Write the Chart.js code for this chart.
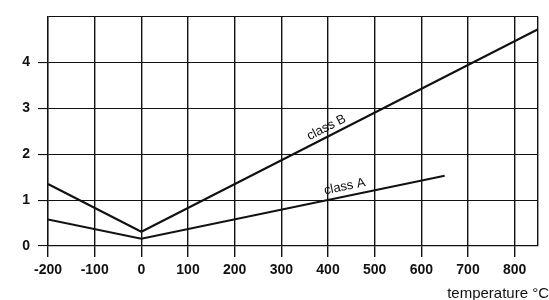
<!DOCTYPE html>
<html><head><meta charset="utf-8">
<script src="https://cdn.jsdelivr.net/npm/chart.js@4/dist/chart.umd.min.js"></script>
<style>html,body{margin:0;padding:0;background:#fff}#wrap{width:549px;height:300px;position:relative}</style>
</head><body><div id="wrap"><canvas id="c" width="549" height="300"></canvas></div>
<script>
const xTicks = [-200, -100, 0, 100, 200, 300, 400, 500, 600, 700, 800, 850];
const yTicks = [0, 1, 2, 3, 4, 5];
const classBTemps = [-200, 0, 850];
const classBValues = [1.35, 0.31, 4.72];
const classATemps = [-200, 0, 650];
const classAValues = [0.58, 0.16, 1.53];
const xAxisTitle = 'temperature °C';
const labelB = 'class B';
const labelA = 'class A';

const tickFont = {family: '"Liberation Sans", Arial, sans-serif', size: 14, weight: 'bold'};

const textPlugin = {
  id: 'texts',
  afterDatasetsDraw(chart) {
    const {ctx, scales: {x, y}} = chart;
    ctx.save();
    ctx.fillStyle = '#111';
    ctx.font = '15px "Liberation Sans", Arial, sans-serif';
    ctx.textAlign = 'right';
    ctx.textBaseline = 'alphabetic';
    ctx.fillText(xAxisTitle, 549, 298);
    function along(label, temps, vals, t, off) {
      const i = 1;
      const x0 = x.getPixelForValue(temps[i]), y0 = y.getPixelForValue(vals[i]);
      const x1 = x.getPixelForValue(temps[i+1]), y1 = y.getPixelForValue(vals[i+1]);
      const ang = Math.atan2(y1 - y0, x1 - x0);
      const v = vals[i] + (vals[i+1] - vals[i]) * (t - temps[i]) / (temps[i+1] - temps[i]);
      ctx.save();
      ctx.translate(x.getPixelForValue(t), y.getPixelForValue(v));
      ctx.rotate(ang);
      ctx.textAlign = 'center';
      ctx.font = '13px "Liberation Sans", Arial, sans-serif';
      ctx.fillText(label, 0, -off);
      ctx.restore();
    }
    along(labelB, classBTemps, classBValues, 405, 5);
    along(labelA, classATemps, classAValues, 440, 6);
    ctx.restore();
  }
};

new Chart(document.getElementById('c'), {
  type: 'scatter',
  data: {
    datasets: [
      {label: labelB, data: classBTemps.map((t, i) => ({x: t, y: classBValues[i]})), showLine: true, borderColor: '#111', borderWidth: 2, pointRadius: 0, tension: 0},
      {label: labelA, data: classATemps.map((t, i) => ({x: t, y: classAValues[i]})), showLine: true, borderColor: '#111', borderWidth: 2, pointRadius: 0, tension: 0}
    ]
  },
  options: {
    responsive: false,
    animation: false,
    layout: {padding: {top: 14, right: 11, bottom: 0, left: 0}},
    plugins: {legend: {display: false}, tooltip: {enabled: false}},
    scales: {
      x: {
        type: 'linear', min: -200, max: 850,
        afterBuildTicks(s) { s.ticks = xTicks.map(v => ({value: v})); },
        afterFit(s) { s.height = 54; },
        grid: {color: '#111', lineWidth: 1.4, tickLength: 11, drawTicks: true,
          tickColor: (c) => (c.tick && c.tick.value === 850 ? 'rgba(0,0,0,0)' : '#111')},
        border: {color: '#111', width: 1.3},
        ticks: {color: '#111', font: tickFont, padding: 5, maxRotation: 0, autoSkip: false,
          callback: (v) => (v === 850 ? '' : String(v))}
      },
      y: {
        type: 'linear', min: 0, max: 5,
        afterBuildTicks(s) { s.ticks = yTicks.map(v => ({value: v})); },
        afterFit(s) { s.width = 48; },
        grid: {color: '#111', lineWidth: 1.1, tickLength: 10, drawTicks: true,
          tickColor: (c) => (c.tick && c.tick.value === 5 ? 'rgba(0,0,0,0)' : '#111')},
        border: {color: '#111', width: 1.3},
        ticks: {color: '#111', font: tickFont, padding: 8,
          callback: (v) => (v === 5 ? '' : String(v))}
      }
    }
  },
  plugins: [textPlugin]
});
</script></body></html>
